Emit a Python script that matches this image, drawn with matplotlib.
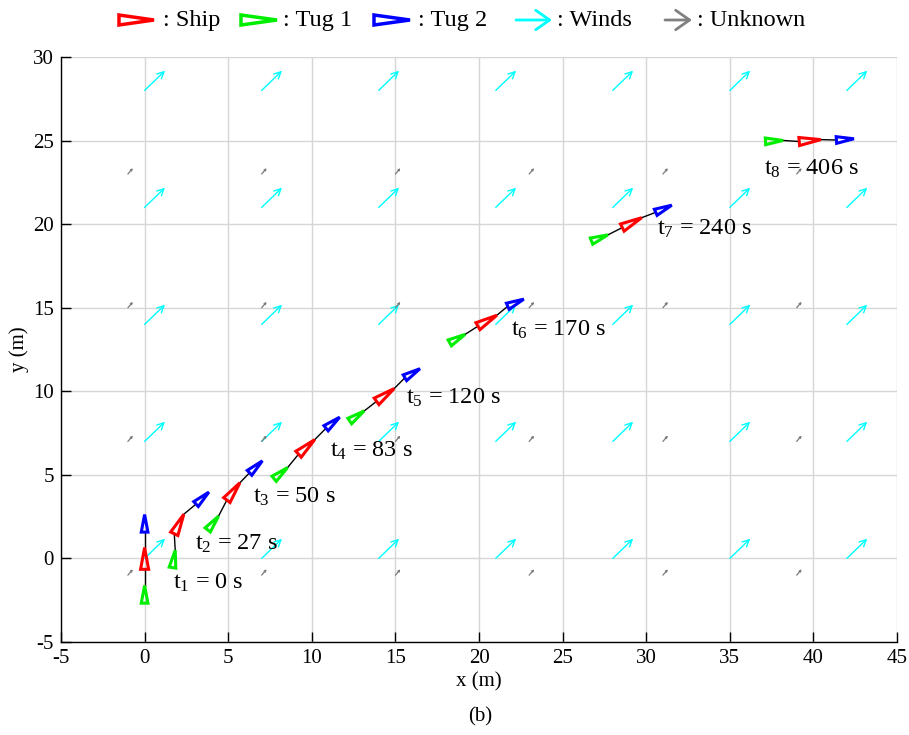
import numpy as np
import matplotlib
matplotlib.use("Agg")
import matplotlib.pyplot as plt
from matplotlib.patches import Polygon

plt.rcParams['font.family'] = ['Liberation Serif', 'DejaVu Serif']
plt.rcParams['mathtext.fontset'] = 'custom'
plt.rcParams['mathtext.rm'] = 'Liberation Serif'
plt.rcParams['mathtext.it'] = 'Liberation Serif:italic'
plt.rcParams['axes.unicode_minus'] = False

# ---------------- data ----------------
times = [0, 27, 50, 83, 120, 170, 240, 406]
ship_x = [0.0, 2.06, 5.31, 9.69, 14.40, 20.50, 29.15, 39.80]
ship_y = [0.0, 2.06, 4.01, 6.67, 9.78, 14.22, 20.09, 25.00]
ship_psi = [90, 64, 53, 42, 36, 30, 27, 5]
tug1_x = [0.0, 1.75, 4.10, 8.15, 12.70, 18.71, 27.22, 37.66]
tug1_y = [-2.15, -0.03, 2.12, 5.10, 8.52, 13.15, 19.17, 24.98]
tug1_psi = [90, 81, 52, 40, 35, 29, 21, 3]
tug2_x = [0.0, 3.46, 6.66, 11.26, 16.02, 22.20, 31.05, 41.90]
tug2_y = [2.10, 3.61, 5.48, 8.12, 11.08, 15.30, 20.92, 25.07]
tug2_psi = [90, 43, 43, 39, 31, 24, 24, 4]

wind_x = [0, 7, 14, 21, 28, 35, 42]
wind_y = [0, 7, 14, 21, 28]
wind_u, wind_v = 1.22, 1.18
unk_x = [-1, 7, 15, 23, 31, 39]
unk_y = [-1, 7, 15, 23]
unk_u, unk_v = 0.3, 0.35

label_x = [1.7, 3.0, 6.5, 11.1, 15.65, 21.9, 30.65, 37.05]
label_y = [-1.45, 0.85, 3.7, 6.45, 9.6, 13.7, 19.7, 23.3]

xticks = list(range(-5, 50, 5))
yticks = list(range(-5, 35, 5))

# ---------------- figure ----------------
W, H = 909, 735
fig = plt.figure(figsize=(W / 100, H / 100), dpi=100)
ax = fig.add_axes([61 / W, 1 - 642 / H, (897 - 61) / W, (642 - 57) / H])
ax.set_xlim(-5, 45)
ax.set_ylim(-5, 30)
ax.set_xticks(xticks)
ax.set_yticks(yticks)
ax.grid(True, color='#d6d6d6', lw=1.0)
ax.set_axisbelow(True)
for s in ['top', 'right']:
    ax.spines[s].set_visible(False)
for s in ['left', 'bottom']:
    ax.spines[s].set_linewidth(1.0)
ax.tick_params(direction='in', length=7, width=1, labelsize=15, pad=5)
ax.set_xlabel('x (m)', fontsize=15, labelpad=3)
ax.set_ylabel('y (m)', fontsize=15, labelpad=3)

# wind arrows
for wx in wind_x:
    for wy in wind_y:
        ax.annotate('', xy=(wx + wind_u, wy + wind_v), xytext=(wx, wy),
                    arrowprops=dict(arrowstyle='->,head_length=0.4,head_width=0.2',
                                    color='cyan', lw=1.0, shrinkA=0, shrinkB=0,
                                    mutation_scale=12))
# unknown arrows
for ux in unk_x:
    for uy in unk_y:
        ax.annotate('', xy=(ux + unk_u, uy + unk_v), xytext=(ux, uy),
                    arrowprops=dict(arrowstyle='->,head_length=0.3,head_width=0.15',
                                    color='#7a7a7a', lw=0.9, shrinkA=0, shrinkB=0,
                                    mutation_scale=4))


def tri(x, y, psi, L, w):
    d = np.array([np.cos(np.radians(psi)), np.sin(np.radians(psi))])
    n = np.array([-d[1], d[0]])
    c = np.array([x, y])
    tip = c + d * L / 2
    base = c - d * L / 2
    return tip, base, np.array([tip, base + n * w / 2, base - n * w / 2])


LS, WS = 1.3, 0.48
LT, WT = 1.05, 0.4
for i in range(len(times)):
    t1tip, t1base, p1 = tri(tug1_x[i], tug1_y[i], tug1_psi[i], LT, WT)
    stip, sbase, ps = tri(ship_x[i], ship_y[i], ship_psi[i], LS, WS)
    t2tip, t2base, p2 = tri(tug2_x[i], tug2_y[i], tug2_psi[i], LT, WT)
    ax.plot([t1tip[0], sbase[0]], [t1tip[1], sbase[1]], color='black', lw=1.0, zorder=3)
    ax.plot([stip[0], t2base[0]], [stip[1], t2base[1]], color='black', lw=1.0, zorder=3)
    for p, col in [(p1, '#00ee00'), (ps, 'red'), (p2, 'blue')]:
        ax.add_patch(Polygon(p, closed=True, fill=False, edgecolor=col, lw=2.2,
                             joinstyle='miter', zorder=4))
    ax.text(label_x[i], label_y[i], r'$\mathrm{t}_{%d}$ = %d s' % (i + 1, times[i]),
            fontsize=17.5, ha='left', va='center', zorder=5)

fig.text(480 / W, 1 - 717 / H, '(b)', ha='center', va='center', fontsize=15)

# ---------------- legend (pixel coords) ----------------
lax = fig.add_axes([0, 0, 1, 1])
lax.set_xlim(0, W)
lax.set_ylim(H, 0)
lax.axis('off')
ly = 20
items = [('red', 119, 154, ': Ship', 163), ('#00ee00', 241, 277, ': Tug 1', 283),
         ('blue', 374, 410, ': Tug 2', 418)]
for col, x0, x1, lab, tx in items:
    lax.add_patch(Polygon([[x1, ly], [x0, ly - 5], [x0, ly + 5]], closed=True, fill=False,
                          edgecolor=col, lw=2.5, joinstyle='miter'))
    lax.text(tx, ly, lab, fontsize=17.5, ha='left', va='center')
lax.annotate('', xy=(552, ly), xytext=(516, ly),
             arrowprops=dict(arrowstyle='->,head_length=0.5,head_width=0.35', color='cyan',
                             lw=2.0, shrinkA=0, shrinkB=0, mutation_scale=20))
lax.text(557, ly, ': Winds', fontsize=17.5, ha='left', va='center')
lax.annotate('', xy=(692, ly), xytext=(665, ly),
             arrowprops=dict(arrowstyle='->,head_length=0.5,head_width=0.35', color='#808080',
                             lw=2.0, shrinkA=0, shrinkB=0, mutation_scale=20))
lax.text(697, ly, ': Unknown', fontsize=17.5, ha='left', va='center')

fig.savefig('out.png', dpi=100)
